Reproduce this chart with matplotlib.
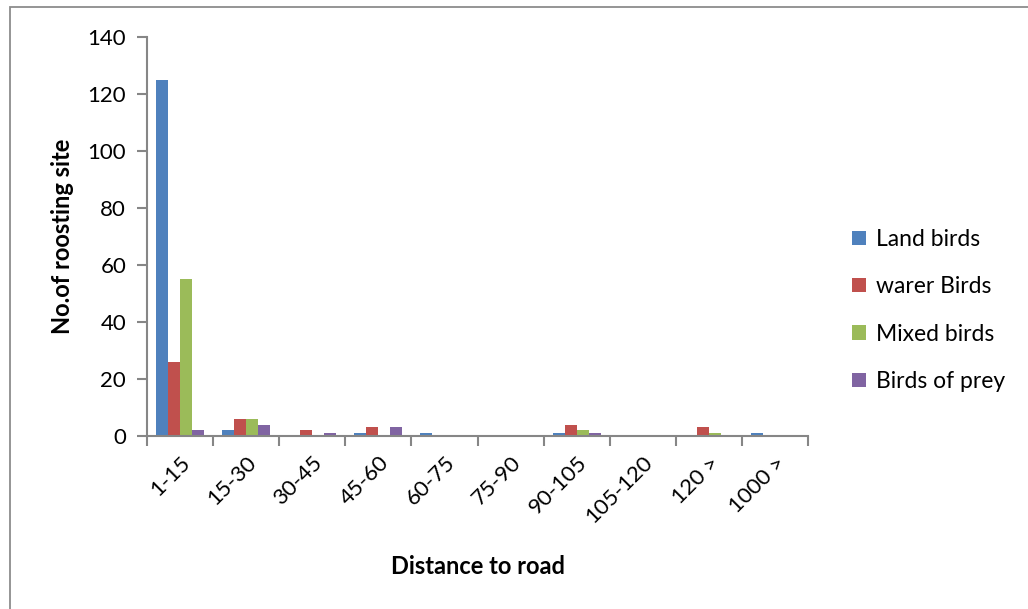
import numpy as np
import matplotlib.pyplot as plt
from matplotlib.patches import Rectangle

plt.rcParams['font.family'] = ['Lato', 'DejaVu Sans']

categories = ["1-15", "15-30", "30-45", "45-60", "60-75", "75-90",
              "90-105", "105-120", "120 >", "1000 >"]
land_birds = [125, 2, 0, 1, 1, 0, 1, 0, 0, 1]
warer_birds = [26, 6, 2, 3, 0, 0, 4, 0, 3, 0]
mixed_birds = [55, 6, 0, 0, 0, 0, 2, 0, 1, 0]
birds_of_prey = [2, 4, 1, 3, 0, 0, 1, 0, 0, 0]

series = [("Land birds", land_birds, "#4F81BD"),
          ("warer Birds", warer_birds, "#C0504D"),
          ("Mixed birds", mixed_birds, "#9BBB59"),
          ("Birds of prey", birds_of_prey, "#8064A2")]

fig = plt.figure(figsize=(10.28, 6.09), dpi=100)
# chart area border (runs off the right and bottom edges)
fig.patches.append(Rectangle((0.0097, -0.1), 1.2, 1.0885, transform=fig.transFigure,
                             fill=False, edgecolor="#8c8c8c", linewidth=1.3))
ax = fig.add_axes([0.143, 0.284, 0.643, 0.655])

x = np.arange(len(categories))
w = 1 / 5.5
for i, (name, vals, col) in enumerate(series):
    ax.bar(x + (i - 1.5) * w, vals, width=w, color=col, label=name)

ax.set_xlim(-0.5, len(categories) - 0.5)
ax.set_ylim(0, 140)
ax.set_yticks(range(0, 141, 20))
ax.set_xticks(np.arange(len(categories) + 1) - 0.5)
ax.set_xticklabels([])
ax.set_xticks(x, minor=True)
ax.set_xticklabels(categories, minor=True, rotation=45, ha="right",
                   rotation_mode="anchor", fontsize=16)
ax.tick_params(axis="x", which="minor", length=0, pad=12)
ax.tick_params(axis="x", which="major", length=7, color="#868686", width=1.5)
ax.tick_params(axis="y", length=7, color="#868686", width=1.5, labelsize=16, pad=8)

for s in ["top", "right"]:
    ax.spines[s].set_visible(False)
for s in ["left", "bottom"]:
    ax.spines[s].set_color("#868686")
    ax.spines[s].set_linewidth(1.5)

ax.set_xlabel("Distance to road", fontsize=17, fontweight="bold", labelpad=20)
ax.set_ylabel("No.of roosting site", fontsize=17, fontweight="bold", labelpad=10)

ax.legend(loc="center left", bbox_to_anchor=(1.035, 0.315), frameon=False,
          fontsize=16.5, handlelength=0.6, handleheight=0.6, labelspacing=1.15,
          handletextpad=0.45)

fig.savefig("out.png", dpi=100)
